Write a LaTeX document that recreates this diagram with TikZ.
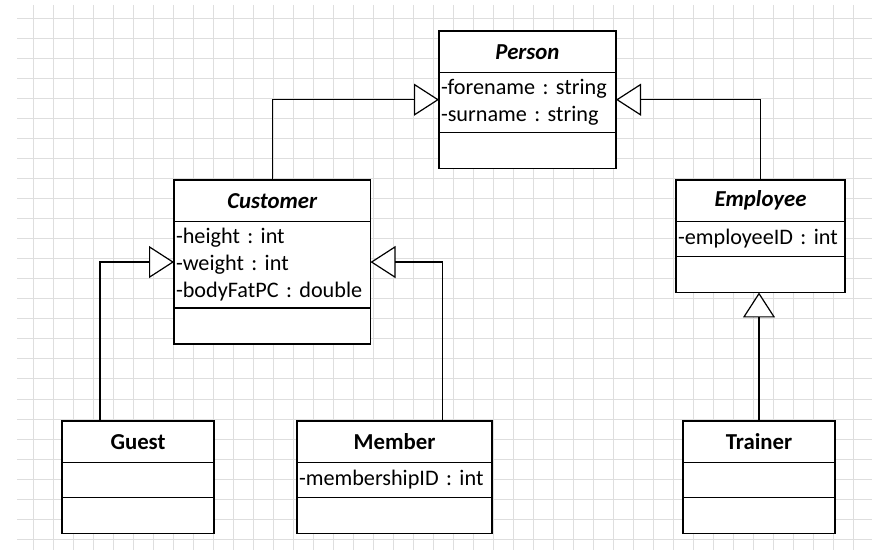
\documentclass[tikz,border=0pt]{standalone}
\usepackage{fontspec}
\setmainfont{Carlito}
\usetikzlibrary{positioning,fit,arrows.meta}

\definecolor{gridgray}{RGB}{222,222,222}

\begin{document}
\begin{tikzpicture}[x=0.5pt, y=-0.5pt,
    box/.style={rectangle, draw, fill=white, line width=0.8pt, outer sep=0pt,
      font=\fontsize{11.1}{13.4}\selectfont\frenchspacing},
    title/.style={box, minimum height=20.75pt, anchor=north west},
    abstract/.style={title, font=\fontsize{11.4}{13.4}\selectfont\bfseries\itshape},
    concrete/.style={title, font=\fontsize{11.4}{13.4}\selectfont\bfseries},
    attrs/.style={box, minimum height=17.5pt, align=left, inner xsep=1pt, inner ysep=3.5pt},
    ops/.style={box, minimum height=18pt},
    clsframe/.style={inner sep=0pt, outer sep=0pt},
    inherit/.style={line width=0.6pt, -{Triangle[open, length=12.5pt, width=16pt, fill=white]}}]
  \useasboundingbox (0,0) rectangle (872,550);
  % background grid
  \foreach \x in {0,...,41}
    \draw[gridgray, line width=0.5pt] ({33+20*\x},5) -- ({33+20*\x},550);
  \foreach \y in {0,...,26}
    \draw[gridgray, line width=0.5pt] (17,{19+20*\y}) -- (872,{19+20*\y});

  % Person
  \node[abstract, minimum width=88.5pt] (person) at (439,31) {Person};
  \node[attrs, text width=86.5pt, below=0pt of person] (person-attr) {-forename : string\\-surname : string};
  \node[ops, minimum width=88.5pt, below=0pt of person-attr] (person-ops) {};
  \node[clsframe, fit=(person)(person-ops)] (person-cls) {};

  % Customer
  \node[abstract, minimum width=98.25pt] (customer) at (174,180) {Customer};
  \node[attrs, text width=96.25pt, below=0pt of customer] (customer-attr) {-height : int\\-weight : int\\-bodyFatPC : double};
  \node[ops, minimum width=98.25pt, below=0pt of customer-attr] (customer-ops) {};
  \node[clsframe, fit=(customer)(customer-ops)] (customer-cls) {};

  % Employee
  \node[abstract, minimum width=84.5pt] (employee) at (676,180) {Employee};
  \node[attrs, text width=82.5pt, below=0pt of employee] (employee-attr) {-employeeID : int};
  \node[ops, minimum width=84.5pt, below=0pt of employee-attr] (employee-ops) {};
  \node[clsframe, fit=(employee)(employee-ops)] (employee-cls) {};

  % Guest
  \node[concrete, minimum width=76pt] (guest) at (62,421) {Guest};
  \node[attrs, text width=74pt, below=0pt of guest] (guest-attr) {};
  \node[ops, minimum width=76pt, below=0pt of guest-attr] (guest-ops) {};

  % Member
  \node[concrete, minimum width=97.5pt] (member) at (297,421) {Member};
  \node[attrs, text width=95.5pt, below=0pt of member] (member-attr) {-membershipID : int};
  \node[ops, minimum width=97.5pt, below=0pt of member-attr] (member-ops) {};

  % Trainer
  \node[concrete, minimum width=76pt] (trainer) at (683,421) {Trainer};
  \node[attrs, text width=74pt, below=0pt of trainer] (trainer-attr) {};
  \node[ops, minimum width=76pt, below=0pt of trainer-attr] (trainer-ops) {};

  % generalisations
  \draw[inherit] (customer.north) |- (person-cls.west);
  \draw[inherit] (employee.north) |- (person-cls.east);
  \draw[inherit] ([xshift=-19pt]guest.north) |- (customer-cls.west);
  \draw[inherit] ([xshift=24pt]member.north) |- (customer-cls.east);
  \draw[inherit] (trainer.north) -- (trainer.north |- employee-cls.south);
\end{tikzpicture}
\end{document}
